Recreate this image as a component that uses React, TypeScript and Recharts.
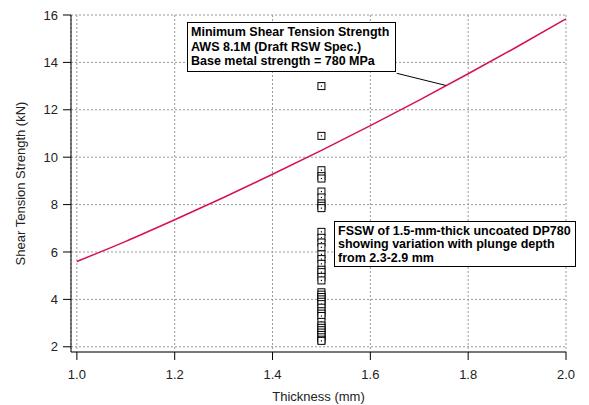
import React from "react";
import {
  ComposedChart,
  Line,
  Scatter,
  XAxis,
  YAxis,
  CartesianGrid,
  ReferenceLine,
} from "recharts";

// AWS 8.1M minimum shear tension strength curve
const thickness = [1.0, 1.1, 1.2, 1.3, 1.4, 1.5, 1.6, 1.7, 1.8, 1.9, 2.0];
const minStrength = [5.6, 6.45, 7.36, 8.3, 9.28, 10.29, 11.33, 12.41, 13.52, 14.66, 15.84];

// FSSW results, all at 1.5 mm
const fsswThickness = 1.5;
const fsswStrength = [
  13.0, 10.9, 9.45, 9.2, 9.1, 8.55, 8.3, 8.05, 7.95, 7.85,
  6.85, 6.6, 6.4, 6.2, 5.9, 5.7, 5.5, 5.25, 5.15, 4.95, 4.8,
  4.3, 4.2, 4.1, 4.0, 3.9, 3.8, 3.65, 3.5, 3.4, 3.3, 3.05,
  2.9, 2.8, 2.7, 2.6, 2.5, 2.4, 2.3, 2.25,
];

const xTicks = [1.0, 1.2, 1.4, 1.6, 1.8, 2.0];
const yTicks = [2, 4, 6, 8, 10, 12, 14, 16];

const curveData = thickness.map((x, i) => ({ x, y: minStrength[i] }));
const fsswData = fsswStrength.map((y) => ({ x: fsswThickness, y }));

const font = "'Liberation Sans', Arial, sans-serif";

const SquareDot = (props: any) => {
  const { cx, cy } = props;
  if (cx == null || cy == null) return null;
  return (
    <g>
      <rect x={cx - 3.5} y={cy - 3.5} width={7} height={7} fill="#fff" stroke="#000" strokeWidth={1} />
      <rect x={cx - 0.6} y={cy - 0.6} width={1.2} height={1.2} fill="#000" />
    </g>
  );
};

const boxStyle: React.CSSProperties = {
  position: "absolute",
  boxSizing: "border-box",
  background: "#fff",
  border: "1.5px solid #000",
  fontFamily: font,
  fontWeight: "bold",
  fontSize: 12.5,
  color: "#000",
  whiteSpace: "nowrap",
};

export default function App() {
  return (
    <div style={{ position: "absolute", left: 0, top: 0, width: 589, height: 405, background: "#fff" }}>
      <ComposedChart
        width={589}
        height={405}
        margin={{ top: 15, right: 23, bottom: 0, left: 0 }}
        style={{ fontFamily: font }}
      >
        <CartesianGrid stroke="#999" strokeDasharray="2 2" />
        <XAxis
          type="number"
          dataKey="x"
          domain={[0.988, 2.0]}
          allowDataOverflow
          ticks={xTicks}
          tickFormatter={(v: number) => v.toFixed(1)}
          height={53}
          tickSize={8}
          tickMargin={10}
          axisLine={{ stroke: "#777", strokeWidth: 2 }}
          tickLine={{ stroke: "#000" }}
          tick={{ fill: "#222", fontSize: 13 }}
          label={{ value: "Thickness (mm)", position: "insideBottom", offset: 4, fill: "#222", fontSize: 13 }}
        />
        <YAxis
          type="number"
          dataKey="y"
          domain={[1.78, 16]}
          allowDataOverflow
          ticks={yTicks}
          width={71}
          tickSize={8}
          tickMargin={5}
          axisLine={{ stroke: "#000" }}
          tickLine={{ stroke: "#000" }}
          tick={{ fill: "#222", fontSize: 13 }}
          label={{
            value: "Shear Tension Strength (kN)",
            angle: -90,
            position: "insideLeft",
            offset: 20,
            style: { textAnchor: "middle" },
            fill: "#222",
            fontSize: 13,
          }}
        />
        <Line
          data={curveData}
          dataKey="y"
          type="monotone"
          stroke="#d6105a"
          strokeWidth={1.5}
          dot={false}
          isAnimationActive={false}
        />
        <Scatter data={fsswData} dataKey="y" shape={SquareDot} isAnimationActive={false} />
        <ReferenceLine
          segment={[
            { x: 1.654, y: 13.54 },
            { x: 1.754, y: 13.03 },
          ]}
          stroke="#000"
          strokeWidth={1}
        />
      </ComposedChart>
      <div style={{ ...boxStyle, left: 187, top: 22, width: 209, height: 50, padding: "2px 0 0 3px", lineHeight: "14.5px" }}>
        Minimum Shear Tension Strength
        <br />
        AWS 8.1M (Draft RSW Spec.)
        <br />
        Base metal strength = 780 MPa
      </div>
      <div style={{ ...boxStyle, left: 334, top: 221, width: 242, height: 46, padding: "3px 0 0 3px", lineHeight: "13.4px" }}>
        FSSW of 1.5-mm-thick uncoated DP780
        <br />
        showing variation with plunge depth
        <br />
        from 2.3-2.9 mm
      </div>
    </div>
  );
}
